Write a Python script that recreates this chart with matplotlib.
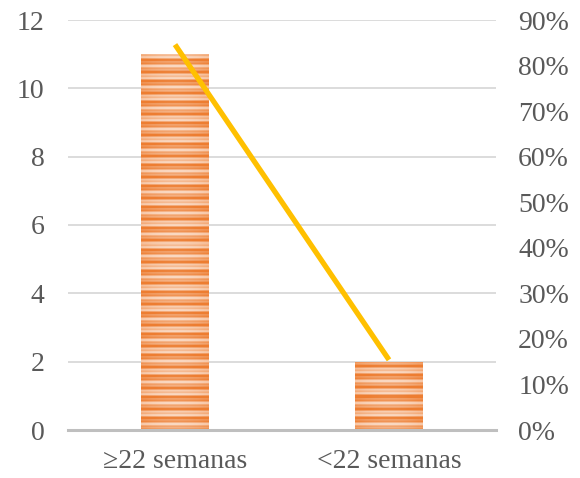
import numpy as np
import matplotlib
matplotlib.use("Agg")
import matplotlib.pyplot as plt
from matplotlib.colors import to_rgb

# Data
categories = ["≥22 semanas", "<22 semanas"]
counts = [11, 2]
percent = [0.846, 0.154]
left_ticks = [0, 2, 4, 6, 8, 10, 12]
right_ticks = [0.0, 0.1, 0.2, 0.3, 0.4, 0.5, 0.6, 0.7, 0.8, 0.9]

plt.rcParams["font.family"] = ["Liberation Serif", "DejaVu Serif"]
label_color = "#595959"

W, H = 580, 478
fig = plt.figure(figsize=(W / 100, H / 100), dpi=100)
ax = fig.add_axes([68 / W, (H - 430) / H, (496 - 68) / W, (430 - 20) / H])

x = np.arange(len(categories))
bar_w = 0.315
bars = ax.bar(x, counts, width=bar_w, color="#ED7D31", zorder=2, linewidth=0)

ax.set_xlim(-0.5, len(categories) - 0.5)
ax.set_ylim(0, 12)

# Striped fill clipped to each bar
light = np.array(to_rgb("#FDEEE4"))
dark = np.array(to_rgb("#ED7D31"))
px_per_unit = 410 / 12
for rect in bars:
    x0, y0 = rect.get_x(), rect.get_y()
    w, h = rect.get_width(), rect.get_height()
    rows = max(int(h * px_per_unit), 2)
    cols = 60
    p = np.arange(rows)[::-1].astype(float)
    s = 0.5 + 0.45 * np.cos(2 * np.pi * p / 10.5) + 0.3 * np.cos(2 * np.pi * p / 4.2 + 1.0)
    s = np.clip(s, 0, 1)
    xs = np.linspace(-1, 1, cols)
    edge = 0.55 + 0.45 * xs ** 2
    amt = np.clip(s[:, None] * 0.75 + edge[None, :] * 0.35, 0, 1)
    img = light[None, None, :] * (1 - amt[..., None]) + dark[None, None, :] * amt[..., None]
    im = ax.imshow(img, extent=[x0, x0 + w, y0, y0 + h], aspect="auto",
                   interpolation="nearest", zorder=2.5)
    im.set_clip_path(rect)

ax.set_yticks(left_ticks)
ax.yaxis.grid(True, color="#D9D9D9", linewidth=1.3, zorder=0)
ax.set_axisbelow(True)
for sp in ["top", "right", "left"]:
    ax.spines[sp].set_visible(False)
ax.spines["bottom"].set_color("#BFBFBF")
ax.spines["bottom"].set_linewidth(2.2)
ax.spines["bottom"].set_zorder(3)
ax.set_xticks(x)
ax.set_xticklabels(categories)
ax.tick_params(axis="both", length=0, labelsize=20, colors=label_color)
ax.tick_params(axis="y", pad=17)
ax.tick_params(axis="x", pad=14)

ax2 = ax.twinx()
ax2.set_ylim(0, 0.9)
ax2.set_yticks(right_ticks)
ax2.set_yticklabels([f"{int(round(t * 100))}%" for t in right_ticks])
ax2.tick_params(axis="y", length=0, labelsize=20, colors=label_color, pad=16)
for sp in ax2.spines.values():
    sp.set_visible(False)
ax2.plot(x, percent, color="#FFC000", linewidth=3.8, solid_capstyle="butt", zorder=5)

fig.savefig("out.png", dpi=100)
